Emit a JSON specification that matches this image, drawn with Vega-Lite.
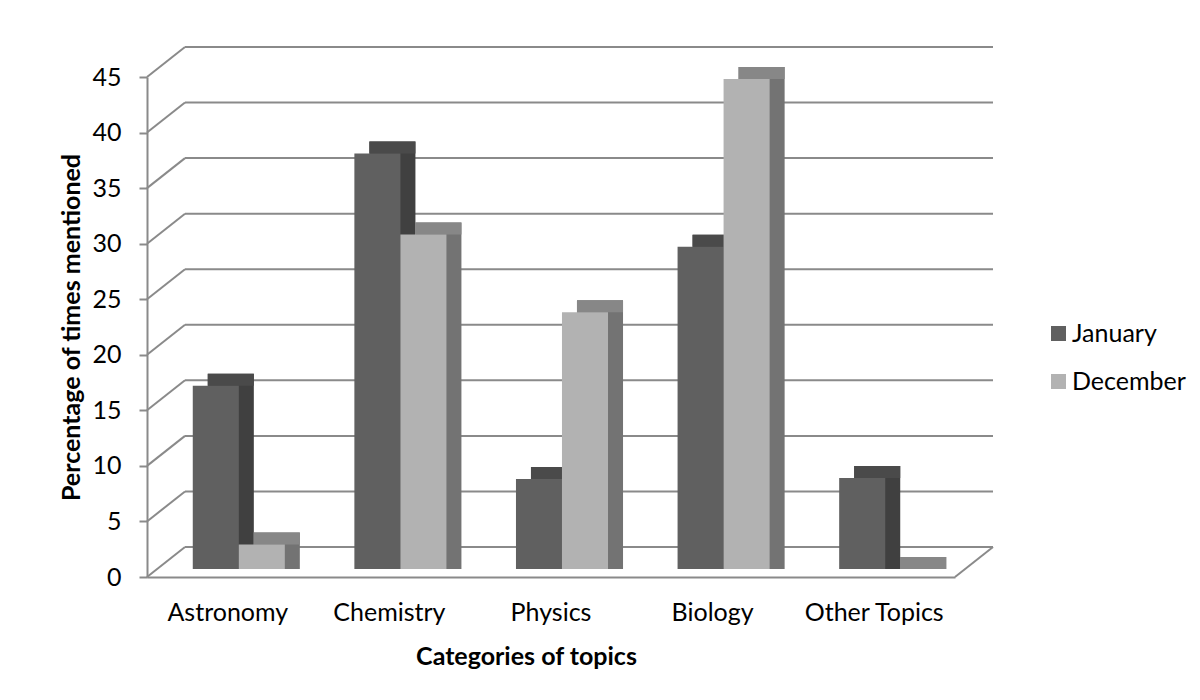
{
  "$schema": "https://vega.github.io/schema/vega-lite/v6.json",
  "width": 808,
  "height": 500,
  "autosize": {"type": "none"},
  "padding": {"left": 147, "top": 77, "right": 245, "bottom": 123},
  "background": "white",
  "config": {
    "view": {"stroke": null},
    "font": "Lato",
    "axis": {"labelFont": "Lato", "titleFont": "Lato", "labelColor": "#000000", "titleColor": "#000000"},
    "legend": {"labelFont": "Lato"}
  },
  "datasets": {
    "bars": [
      {"topic": "Astronomy", "month": "January", "value": 16.5},
      {"topic": "Astronomy", "month": "December", "value": 2.2},
      {"topic": "Chemistry", "month": "January", "value": 37.4},
      {"topic": "Chemistry", "month": "December", "value": 30.1},
      {"topic": "Physics", "month": "January", "value": 8.1},
      {"topic": "Physics", "month": "December", "value": 23.1},
      {"topic": "Biology", "month": "January", "value": 29.0},
      {"topic": "Biology", "month": "December", "value": 44.1},
      {"topic": "Other Topics", "month": "January", "value": 8.2},
      {"topic": "Other Topics", "month": "December", "value": 0}
    ],
    "ticks": [
      {"t": 0}, {"t": 5}, {"t": 10}, {"t": 15}, {"t": 20},
      {"t": 25}, {"t": 30}, {"t": 35}, {"t": 40}, {"t": 45}
    ]
  },
  "layer": [
    {
      "data": {"name": "ticks"},
      "mark": {"type": "rule", "color": "#8a8a8a", "strokeWidth": 2, "xOffset": 38, "x2Offset": 38, "yOffset": -30},
      "encoding": {
        "y": {
          "field": "t", "type": "quantitative", "scale": {"domain": [0, 45], "nice": false},
          "axis": {
            "title": "Percentage of times mentioned",
            "values": [0, 5, 10, 15, 20, 25, 30, 35, 40, 45],
            "grid": false, "domainColor": "#8a8a8a", "domainWidth": 2,
            "tickColor": "#8a8a8a", "tickWidth": 2, "tickSize": 8,
            "labelFontSize": 25, "labelPadding": 18,
            "titleFontSize": 25, "titleFontWeight": "bold", "titlePadding": 7
          }
        },
        "x": {"value": 0},
        "x2": {"value": {"expr": "width"}}
      }
    },
    {
      "data": {"name": "ticks"},
      "mark": {"type": "rule", "color": "#8a8a8a", "strokeWidth": 2, "x2Offset": 38, "y2Offset": -30},
      "encoding": {
        "y": {"field": "t", "type": "quantitative", "axis": {"title": "Percentage of times mentioned"}},
        "y2": {"field": "t"},
        "x": {"value": 0},
        "x2": {"value": 0}
      }
    },
    {
      "data": {"name": "ticks"},
      "transform": [{"filter": "datum.t == 0"}],
      "mark": {"type": "rule", "color": "#8a8a8a", "strokeWidth": 2, "x2Offset": 38, "y2Offset": -30},
      "encoding": {
        "y": {"field": "t", "type": "quantitative", "axis": {"title": "Percentage of times mentioned"}},
        "y2": {"field": "t"},
        "x": {"value": {"expr": "width"}},
        "x2": {"value": {"expr": "width"}}
      }
    },
    {
      "data": {"name": "bars"},
      "encoding": {
        "x": {
          "field": "topic", "type": "nominal", "sort": null,
          "scale": {"paddingInner": 0.43, "paddingOuter": 0.215},
          "axis": {
            "title": "Categories of topics",
            "labelAngle": 0, "labelFontSize": 25, "labelPadding": 23,
            "ticks": false, "domainColor": "#8a8a8a", "domainWidth": 2,
            "titleFontSize": 25, "titleFontWeight": "bold", "titlePadding": 19,
            "titleX": 379
          }
        },
        "y": {"field": "value", "type": "quantitative", "stack": null, "axis": {"title": "Percentage of times mentioned"}}
      },
      "layer": [
        {
          "transform": [{"filter": "datum.month == 'January'"}],
          "mark": {"type": "bar", "width": {"band": 0.5}, "color": "#404040", "xOffset": 3, "yOffset": -20, "y2Offset": -8},
          "encoding": {"y2": {"datum": 0}}
        },
        {
          "transform": [{"filter": "datum.month == 'January'"}],
          "mark": {"type": "bar", "width": {"band": 0.5}, "color": "#4a4a4a", "xOffset": 3, "yOffset": -20, "y2Offset": -8},
          "encoding": {"y2": {"field": "value"}}
        },
        {
          "transform": [{"filter": "datum.month == 'January'"}],
          "mark": {"type": "bar", "width": {"band": 0.5}, "xOffset": -12, "yOffset": -8, "y2Offset": -8},
          "encoding": {
            "y2": {"datum": 0},
            "color": {
              "field": "month", "type": "nominal",
              "scale": {"domain": ["January", "December"], "range": ["#606060", "#b2b2b2"]},
              "legend": {
                "title": null, "orient": "none", "legendX": 899, "legendY": 244,
                "symbolType": "square", "symbolSize": 225, "symbolStrokeWidth": 0,
                "labelFontSize": 25, "rowPadding": 22, "padding": 0, "labelOffset": 1
              }
            }
          }
        },
        {
          "transform": [{"filter": "datum.month == 'December'"}],
          "mark": {"type": "bar", "width": {"band": 0.5}, "color": "#737373", "xOffset": 49, "yOffset": -20, "y2Offset": -8},
          "encoding": {"y2": {"datum": 0}}
        },
        {
          "transform": [{"filter": "datum.month == 'December'"}],
          "mark": {"type": "bar", "width": {"band": 0.5}, "color": "#878787", "xOffset": 49, "yOffset": -20, "y2Offset": -8},
          "encoding": {"y2": {"field": "value"}}
        },
        {
          "transform": [{"filter": "datum.month == 'December'"}],
          "mark": {"type": "bar", "width": {"band": 0.5}, "xOffset": 34, "yOffset": -8, "y2Offset": -8},
          "encoding": {
            "y2": {"datum": 0},
            "color": {"field": "month", "type": "nominal"}
          }
        }
      ]
    }
  ]
}
